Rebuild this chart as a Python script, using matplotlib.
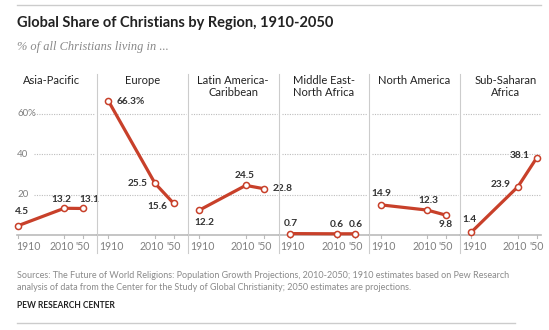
import matplotlib
matplotlib.use("Agg")
import matplotlib.pyplot as plt
from matplotlib.lines import Line2D

# ---- data ----
regions = ["Asia-Pacific", "Europe", "Latin America-\nCaribbean", "Middle East-\nNorth Africa",
           "North America", "Sub-Saharan\nAfrica"]
years = [1910, 2010, 2050]
values = [
    [4.5, 13.2, 13.1],
    [66.3, 25.5, 15.6],
    [12.2, 24.5, 22.8],
    [0.7, 0.6, 0.6],
    [14.9, 12.3, 9.8],
    [1.4, 23.9, 38.1],
]
labels = [
    ["4.5", "13.2", "13.1"],
    ["66.3%", "25.5", "15.6"],
    ["12.2", "24.5", "22.8"],
    ["0.7", "0.6", "0.6"],
    ["14.9", "12.3", "9.8"],
    ["1.4", "23.9", "38.1"],
]
# label offsets in image pixels (dx, dy downward), horizontal alignment
label_pos = [
    [(4, -14, "center"), (-3, -9, "center"), (6, -9, "center")],
    [(8, 1, "left"), (-7, 0, "right"), (-6, 3, "right")],
    [(5, 12, "center"), (-1, -10, "center"), (8, 0, "left")],
    [(1, -10, "center"), (0, -9, "center"), (1, -9, "center")],
    [(1, -11, "center"), (1, -10, "center"), (0, 9, "center")],
    [(-2, -13, "center"), (-7, -2, "right"), (-7, -2, "right")],
]
yticks = [20, 40, 60]
ytick_labels = ["20", "40", "60%"]
xtick_labels = ["1910", "2010", "'50"]

W, H = 549, 330
fig = plt.figure(figsize=(W / 100, H / 100), dpi=100)
fig.patch.set_facecolor("white")

RED = "#c8402a"
GRID = "#bdbdbd"
TXT = "#333333"
GRAY = "#808080"
FONT = "Lato"

def fx(px):
    return px / W

def fy(py):
    return 1 - py / H

# rules
fig.add_artist(Line2D([fx(17), fx(541)], [fy(5), fy(5)], color="#cccccc", lw=1.0))
fig.add_artist(Line2D([fx(17), fx(515)], [fy(322.5), fy(322.5)], color="#cccccc", lw=1.0))

fig.text(fx(17), fy(23), "Global Share of Christians by Region, 1910-2050", fontsize=10.5,
         fontweight="bold", family=FONT, color="#222222", va="center", ha="left")
fig.text(fx(17), fy(47), "% of all Christians living in ...", fontsize=8.9, style="italic",
         family="Liberation Serif", color="#888888", va="center", ha="left")

panel_w = 90.75
left0 = 6.25
ppy = 65.4 / 140.0  # pixels per year
x_left = 1910 - 11.3 / ppy
x_right = x_left + panel_w / ppy
ax_top, ax_bot = 96, 240
ppu = 2.025  # pixels per unit
y_bot = -(ax_bot - 235) / ppu
y_top = (235 - ax_top) / ppu

def px2x(px, L):
    return x_left + (px - L) / ppy

for i, reg in enumerate(regions):
    L = left0 + i * panel_w
    ax = fig.add_axes([fx(L), fy(ax_bot), panel_w / W, (ax_bot - ax_top) / H])
    ax.set_xlim(x_left, x_right)
    ax.set_ylim(y_bot, y_top)
    ax.axis("off")
    # grid lines
    gx0 = L + (28 if i == 0 else 3)
    gx1 = min(L + panel_w - 2, 541)
    for yv in yticks:
        ax.plot([px2x(gx0, L), px2x(gx1, L)], [yv, yv],
                color=GRID, lw=0.8, ls=(0, (1, 1.2)), zorder=1)
    # baseline
    bx0 = L if i > 0 else 17
    bx1 = min(L + panel_w, 541)
    ax.plot([px2x(bx0, L), px2x(bx1, L)], [0, 0],
            color="#bbbbbb", lw=1.2, zorder=1, clip_on=False)
    for yr in years:
        ax.plot([yr, yr], [0, -3 / ppu], color="#bbbbbb", lw=0.8, clip_on=False)
    # tick labels
    for yr, tl, dx in zip(years, xtick_labels, [3, -3, 0]):
        if i == 0 and yr == 1910:
            ax.annotate(tl, xy=(px2x(16, L), 0), xytext=(0, -12), textcoords="offset pixels",
                        ha="left", va="center", fontsize=7.6, family=FONT, color=GRAY)
        else:
            ax.annotate(tl, xy=(yr, 0), xytext=(dx, -12), textcoords="offset pixels",
                        ha="center", va="center", fontsize=7.6, family=FONT, color=GRAY)
    # line
    ax.plot(years, values[i], color=RED, lw=2.3, zorder=3, clip_on=False,
            marker="o", markersize=4.4, markerfacecolor="white",
            markeredgecolor=RED, markeredgewidth=1.1)
    for j, (yr, v) in enumerate(zip(years, values[i])):
        dx, dy, ha = label_pos[i][j]
        ax.annotate(labels[i][j], xy=(yr, v), xytext=(dx, -dy), textcoords="offset pixels",
                    ha=ha, va="center", fontsize=7.3, fontweight="bold", family=FONT,
                    color=TXT, zorder=4)
    # header
    fig.text(fx(L + panel_w / 2), fy(74.5), reg, ha="center", va="top", fontsize=8,
             family=FONT, color="#222222", linespacing=1.15)
    if i == 0:
        for yv, yl in zip(yticks, ytick_labels):
            ax.annotate(yl, xy=(px2x(17, L), yv), ha="left", va="center",
                        fontsize=7, family=FONT, color=GRAY)

# dividers
for i in range(1, len(regions)):
    X = left0 + i * panel_w
    fig.add_artist(Line2D([fx(X), fx(X)], [fy(74), fy(253)], color="#cccccc", lw=0.8))

fig.text(fx(17), fy(276), "Sources: The Future of World Religions: Population Growth Projections, 2010-2050; 1910 estimates based on Pew Research",
         fontsize=6.47, family=FONT, color="#8a8a8a", va="center", ha="left")
fig.text(fx(17), fy(287.5), "analysis of data from the Center for the Study of Global Christianity; 2050 estimates are projections.",
         fontsize=6.47, family=FONT, color="#8a8a8a", va="center", ha="left")
fig.text(fx(17), fy(305), "PEW RESEARCH CENTER", fontsize=6.15, fontweight="bold", family=FONT,
         color="#222222", va="center", ha="left")

fig.savefig("out.png", dpi=100, facecolor="white")
